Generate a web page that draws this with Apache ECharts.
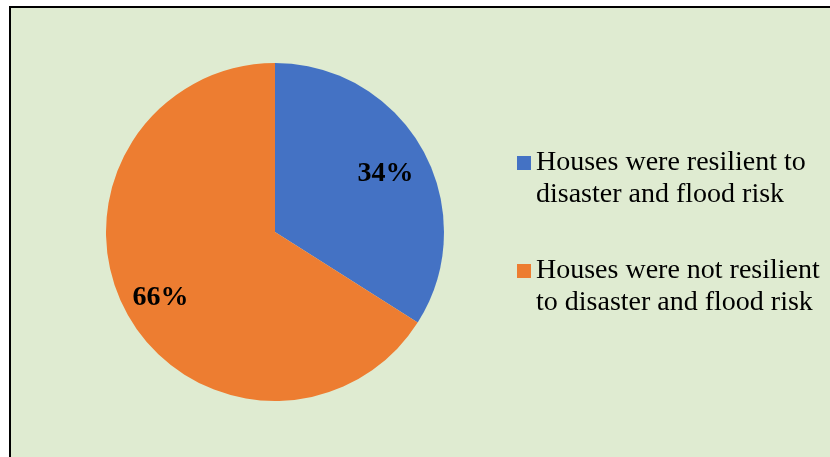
<!DOCTYPE html>
<html>
<head>
<meta charset="utf-8">
<script src="https://cdn.jsdelivr.net/npm/echarts@6/dist/echarts.min.js"></script>
<style>
  html, body { margin: 0; padding: 0; background: #ffffff; overflow: hidden; }
  #frame {
    position: absolute; left: 9px; top: 6px; width: 900px; height: 520px;
    background: #dfebd1; border-top: 2px solid #000; border-left: 2px solid #000;
  }
  #chart { position: absolute; left: 0; top: 0; width: 830px; height: 457px; }
</style>
</head>
<body>
<div id="frame"></div>
<div id="chart"></div>
<script>
// Share of surveyed houses by resilience to disaster and flood risk (%)
const categories = [
  'Houses were resilient to disaster and flood risk',
  'Houses were not resilient to disaster and flood risk'
];
const legendLines = [
  ['Houses were resilient to', 'disaster and flood risk'],
  ['Houses were not resilient', 'to disaster and flood risk']
];
const shares = [34, 66];
const colors = ['#4472c4', '#ed7d31'];

const serif = '"Liberation Serif", "Times New Roman", "DejaVu Serif", serif';
const pieData = categories.map((name, i) => ({ name, value: shares[i] }));

const chart = echarts.init(document.getElementById('chart'));
chart.setOption({
  animation: false,
  color: colors,
  legend: {
    orient: 'vertical',
    left: 517,
    top: 115,
    padding: 0,
    itemWidth: 14,
    itemHeight: 14,
    itemGap: 12,
    icon: 'rect',
    data: categories,
    // a blank leading line keeps the first text line level with the marker
    formatter: name => '\n' + legendLines[categories.indexOf(name)].join('\n'),
    textStyle: {
      fontFamily: serif,
      fontSize: 28,
      lineHeight: 32,
      color: '#000'
    }
  },
  series: [
    {
      type: 'pie',
      center: [275, 232],
      radius: 169,
      startAngle: 90,
      clockwise: true,
      label: { show: false },
      labelLine: { show: false },
      emphasis: { disabled: true },
      itemStyle: { borderWidth: 0 },
      data: pieData
    },
    {
      // percentage labels placed toward the outer part of each slice
      type: 'pie',
      center: [275, 232],
      radius: [82, 169],
      startAngle: 90,
      clockwise: true,
      silent: true,
      emphasis: { disabled: true },
      itemStyle: { color: 'rgba(0,0,0,0)', borderWidth: 0 },
      label: {
        show: true,
        position: 'inside',
        offset: [-2, 4],
        formatter: p => p.value + '%',
        fontFamily: serif,
        fontSize: 28,
        fontWeight: 'bold',
        color: '#000'
      },
      labelLine: { show: false },
      data: pieData
    }
  ]
});
</script>
</body>
</html>
